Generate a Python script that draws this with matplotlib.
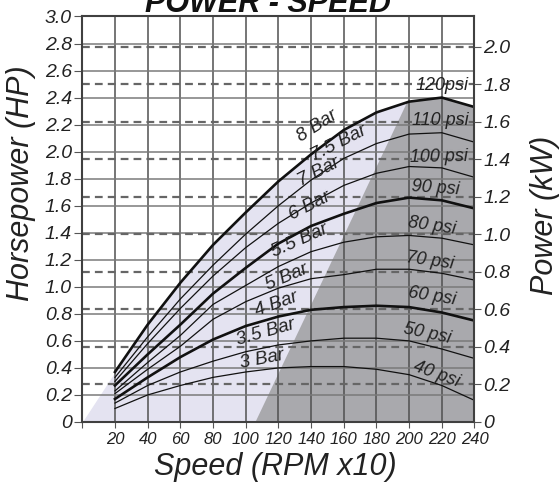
import numpy as np
import matplotlib.pyplot as plt

plt.rcParams['font.family'] = ['Liberation Sans', 'DejaVu Sans']

# speed in RPM x10
speed = [20, 40, 60, 80, 100, 120, 140, 160, 180, 200, 220, 240]

# horsepower for each supply pressure
hp_120 = [0.37, 0.72, 1.03, 1.31, 1.55, 1.78, 1.98, 2.16, 2.29, 2.37, 2.40, 2.33]
hp_110 = [0.33, 0.63, 0.91, 1.16, 1.39, 1.60, 1.79, 1.95, 2.06, 2.13, 2.14, 2.07]
hp_100 = [0.30, 0.58, 0.84, 1.08, 1.29, 1.47, 1.62, 1.75, 1.84, 1.89, 1.88, 1.81]
hp_90 = [0.27, 0.50, 0.72, 0.95, 1.14, 1.32, 1.45, 1.54, 1.62, 1.66, 1.64, 1.58]
hp_80 = [0.23, 0.44, 0.64, 0.87, 1.01, 1.15, 1.26, 1.33, 1.37, 1.38, 1.36, 1.31]
hp_70 = [0.21, 0.39, 0.56, 0.76, 0.89, 0.99, 1.06, 1.09, 1.13, 1.13, 1.10, 1.05]
hp_60 = [0.17, 0.33, 0.48, 0.61, 0.71, 0.78, 0.83, 0.85, 0.86, 0.85, 0.81, 0.75]
hp_50 = [0.14, 0.27, 0.37, 0.45, 0.52, 0.57, 0.60, 0.62, 0.62, 0.60, 0.54, 0.47]
hp_40 = [0.10, 0.20, 0.27, 0.33, 0.37, 0.40, 0.41, 0.41, 0.39, 0.35, 0.27, 0.16]

bar_labels = ['8 Bar', '7.5 Bar', '7 Bar', '6 Bar', '5.5 Bar', '5 Bar', '4 Bar', '3.5 Bar', '3 Bar']
psi_labels = ['120psi', '110 psi', '100 psi', '90 psi', '80 psi', '70 psi', '60 psi', '50 psi', '40 psi']

# dark zone edge (speed, hp)
dark_edge_speed = [106, 199]
dark_edge_hp = [0, 2.37]

hp_ticks = [0, 0.2, 0.4, 0.6, 0.8, 1.0, 1.2, 1.4, 1.6, 1.8, 2.0, 2.2, 2.4, 2.6, 2.8, 3.0]
hp_tick_labels = ['0', '0.2', '0.4', '0.6', '0.8', '1.0', '1.2', '1.4', '1.6', '1.8', '2.0',
                  '2.2', '2.4', '2.6', '2.8', '3.0']
kw_ticks = [0, 0.2, 0.4, 0.6, 0.8, 1.0, 1.2, 1.4, 1.6, 1.8, 2.0]
kw_tick_labels = ['0', '0.2', '0.4', '0.6', '0.8', '1.0', '1.2', '1.4', '1.6', '1.8', '2.0']
speed_ticks = [0, 20, 40, 60, 80, 100, 120, 140, 160, 180, 200, 220, 240]
kw_per_hp = 0.72

curves = [hp_120, hp_110, hp_100, hp_90, hp_80, hp_70, hp_60, hp_50, hp_40]
thick = [True, False, False, True, False, False, True, False, False]

# label placement: (speed, hp, rotation)
bar_pos = [(144, 2.19, 33), (157, 2.06, 27), (145, 1.85, 27), (139, 1.60, 27), (133, 1.34, 24),
           (125, 1.07, 23), (119, 0.87, 20), (112, 0.66, 16), (110, 0.46, 11)]
psi_pos = [(220, 2.49, 0), (219, 2.23, 0), (218, 1.96, 1), (216, 1.73, -4), (214, 1.45, -8),
           (213, 1.19, -8), (214, 0.93, -9), (211, 0.65, -12), (217, 0.35, -20)]

fig = plt.figure(figsize=(5.59, 4.82), dpi=100)
ax = fig.add_axes([0.1472, 0.1245, 0.7016, 0.8413])

# light zone under the top curve
ax.fill_between([0] + speed, [0] + hp_120, color='#e4e3f1', lw=0, zorder=1)

# dark zone right of the edge line
dx = dark_edge_speed + [s for s in speed if s > dark_edge_speed[1]] + [240]
dy = dark_edge_hp + [h for s, h in zip(speed, hp_120) if s > dark_edge_speed[1]] + [0]
ax.fill(dx, dy, color='#a9a9ad', lw=0, zorder=2)

# grid
for s in speed_ticks[1:-1]:
    ax.axvline(s, color='#505050', lw=1.1, zorder=3)
for h in hp_ticks[1:-1]:
    ax.axhline(h, color='#7a7a7a', lw=1.1, zorder=3)
for k in kw_ticks[1:]:
    ax.axhline(k / kw_per_hp, color='#666666', lw=1.6, dashes=(3.5, 2.3), zorder=3)

for hp, t in zip(curves, thick):
    ax.plot(speed, hp, color='#111111', lw=1.9 if t else 0.9, zorder=5)

for txt, (s, h, r) in zip(bar_labels, bar_pos):
    ax.text(s, h, txt, fontsize=13.5, style='italic', rotation=r, ha='center', va='center',
            color='#222222', zorder=6, rotation_mode='anchor')
for txt, (s, h, r) in zip(psi_labels, psi_pos):
    ax.text(s, h, txt, fontsize=13, style='italic', rotation=r, ha='center', va='center',
            color='#222222', zorder=6, rotation_mode='anchor')

ax.set_xlim(0, 240)
ax.set_ylim(0, 3.0)
ax.set_xticks(speed_ticks)
ax.set_xticklabels([''] + [str(s) for s in speed_ticks[1:]], fontsize=12, style='italic')
ax.set_yticks(hp_ticks)
ax.set_yticklabels(hp_tick_labels, fontsize=14, style='italic')
ax.tick_params(axis='x', length=4, pad=3, color='#555555', labelcolor='#222222')
ax.tick_params(axis='y', length=6, pad=1.5, color='#555555', labelcolor='#222222')
for sp in ax.spines.values():
    sp.set_color('#404040')
    sp.set_linewidth(1.5)
    sp.set_zorder(7)

ax2 = ax.twinx()
ax2.set_ylim(0, 3.0 * kw_per_hp)
ax2.set_yticks(kw_ticks)
ax2.set_yticklabels(kw_tick_labels, fontsize=14, style='italic')
ax2.tick_params(axis='y', length=5, pad=1.5, color='#555555', labelcolor='#222222')
for sp in ax2.spines.values():
    sp.set_visible(False)

fig.text(0.48, 1 - 12 / 482, 'POWER - SPEED', fontsize=22, fontweight='bold', style='italic',
         ha='center', va='baseline', color='#111111')
fig.text(0.038, 1 - 183 / 482, 'Horsepower (HP)', fontsize=22, style='italic', rotation=90,
         ha='center', va='center', color='#222222')
fig.text(0.975, 1 - 215 / 482, 'Power (kW)', fontsize=22, style='italic', rotation=90,
         ha='center', va='center', color='#222222')
fig.text(0.492, 1 - 475 / 482, 'Speed (RPM x10)', fontsize=22, style='italic',
         ha='center', va='baseline', color='#222222')

fig.savefig('out.png', dpi=100)
